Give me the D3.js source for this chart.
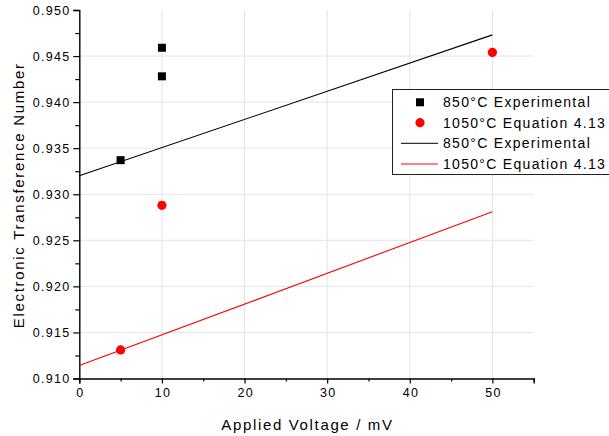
<!DOCTYPE html>
<html><head><meta charset="utf-8">
<script src="https://cdn.jsdelivr.net/npm/d3@7"></script>
<style>body{margin:0;background:#fff;} svg{display:block;font-family:Arial,"Liberation Sans",sans-serif;}</style>
</head><body><svg id="c" width="609" height="436"></svg>
<script>
const xTicks = [0, 10, 20, 30, 40, 50];
const yTicks = [0.910, 0.915, 0.920, 0.925, 0.930, 0.935, 0.940, 0.945, 0.950];
const expX = [5, 10, 10];
const expY = [0.9337, 0.9459, 0.9428];
const eqX = [5, 10, 50];
const eqY = [0.9131, 0.9288, 0.9454];
const fitExpX = [0, 50];
const fitExpY = [0.9320, 0.9473];
const fitEqX = [0, 50];
const fitEqY = [0.9114, 0.9281];
const legendLabels = ["850°C Experimental", "1050°C Equation 4.13", "850°C Experimental", "1050°C Equation 4.13"];
const xTitle = "Applied Voltage / mV";
const yTitle = "Electronic Transference Number";

const svg = d3.select("#c");
const L = 79.3, R = 533.7, T = 10, B = 378.5;
const x = d3.scaleLinear().domain([0, 55]).range([L, R]);
const y = d3.scaleLinear().domain([0.910, 0.950]).range([B, T]);

// grid
const g = svg.append("g");
g.selectAll(".vg").data(xTicks.filter(d => d > 0)).enter().append("line")
  .attr("x1", d => x(d)).attr("x2", d => x(d)).attr("y1", T).attr("y2", B)
  .attr("stroke", "#e4e4e4").attr("stroke-width", 1);
g.selectAll(".hg").data(yTicks.filter(d => d > 0.9101 && d < 0.9499)).enter().append("line")
  .attr("x1", L).attr("x2", R).attr("y1", d => y(d)).attr("y2", d => y(d))
  .attr("stroke", "#e4e4e4").attr("stroke-width", 1);

// axes
const xAxis = d3.axisBottom(x).tickValues(xTicks).tickSize(5).tickPadding(5).tickFormat(d3.format("d"));
const xMinor = d3.axisBottom(x).tickValues([5, 15, 25, 35, 45, 55]).tickSize(3).tickFormat("");
const yAxis = d3.axisLeft(y).tickValues(yTicks).tickSize(6).tickPadding(5).tickFormat(d3.format(".3f"));
const yMinor = d3.axisLeft(y).tickValues([0.9125, 0.9175, 0.9225, 0.9275, 0.9325, 0.9375, 0.9425, 0.9475]).tickSize(4).tickFormat("");

function style(sel) {
  sel.select(".domain").attr("stroke", "#000").attr("stroke-width", 1.4);
  sel.selectAll(".tick line").attr("stroke", "#000").attr("stroke-width", 1.2);
  sel.selectAll("text").attr("font-size", 12.5).attr("fill", "#000").attr("letter-spacing", 1.3)
    .attr("font-family", "Arial, 'Liberation Sans', sans-serif");
}
svg.append("g").attr("transform", `translate(0,${B})`).call(xMinor).call(style).select(".domain").remove();
svg.append("g").attr("transform", `translate(${L},0)`).call(yMinor).call(style).select(".domain").remove();
svg.append("g").attr("transform", `translate(0,${B})`).call(xAxis).call(style)
  .selectAll("text").attr("dx", 0.65);
svg.append("g").attr("transform", `translate(${L},0)`).call(yAxis).call(style)
  .selectAll("text").attr("dx", 2.3);

// fit lines
const line = d3.line().x(d => x(d[0])).y(d => y(d[1]));
svg.append("path").datum(fitExpX.map((v, i) => [v, fitExpY[i]])).attr("d", line)
  .attr("fill", "none").attr("stroke", "#000").attr("stroke-width", 1.1);
svg.append("path").datum(fitEqX.map((v, i) => [v, fitEqY[i]])).attr("d", line)
  .attr("fill", "none").attr("stroke", "#ff0000").attr("stroke-width", 1.1);

// points
svg.selectAll(".sq").data(expX.map((v, i) => [v, expY[i]])).enter().append("rect")
  .attr("x", d => x(d[0]) - 4).attr("y", d => y(d[1]) - 4).attr("width", 8).attr("height", 8).attr("fill", "#000");
svg.selectAll(".ci").data(eqX.map((v, i) => [v, eqY[i]])).enter().append("circle")
  .attr("cx", d => x(d[0])).attr("cy", d => y(d[1])).attr("r", 4.6).attr("fill", "#ff0000");

// titles
svg.append("text").attr("x", (L + R) / 2 + 1).attr("y", 430).attr("text-anchor", "middle")
  .attr("font-size", 15).attr("letter-spacing", 1.65).text(xTitle);
svg.append("text").attr("transform", `translate(24,${(T + B) / 2 + 1}) rotate(-90)`).attr("text-anchor", "middle")
  .attr("font-size", 15).attr("letter-spacing", 1.7).text(yTitle);

// legend
const lg = svg.append("g");
lg.append("rect").attr("x", 392.5).attr("y", 89.5).attr("width", 230).attr("height", 85)
  .attr("fill", "#fff").attr("stroke", "#222").attr("stroke-width", 1);
const rows = [102.3, 122.7, 143.3, 164];
lg.append("rect").attr("x", 416).attr("y", rows[0] - 4).attr("width", 8).attr("height", 8).attr("fill", "#000");
lg.append("circle").attr("cx", 420).attr("cy", rows[1]).attr("r", 4.6).attr("fill", "#ff0000");
lg.append("line").attr("x1", 401).attr("x2", 438).attr("y1", rows[2]).attr("y2", rows[2]).attr("stroke", "#000").attr("stroke-width", 1);
lg.append("line").attr("x1", 401).attr("x2", 438).attr("y1", rows[3]).attr("y2", rows[3]).attr("stroke", "#ff0000").attr("stroke-width", 1);
lg.selectAll(".lt").data(legendLabels).enter().append("text")
  .attr("x", 443).attr("y", (d, i) => rows[i] + 5).attr("font-size", 14).attr("letter-spacing", 1.3).text(d => d);
</script></body></html>
